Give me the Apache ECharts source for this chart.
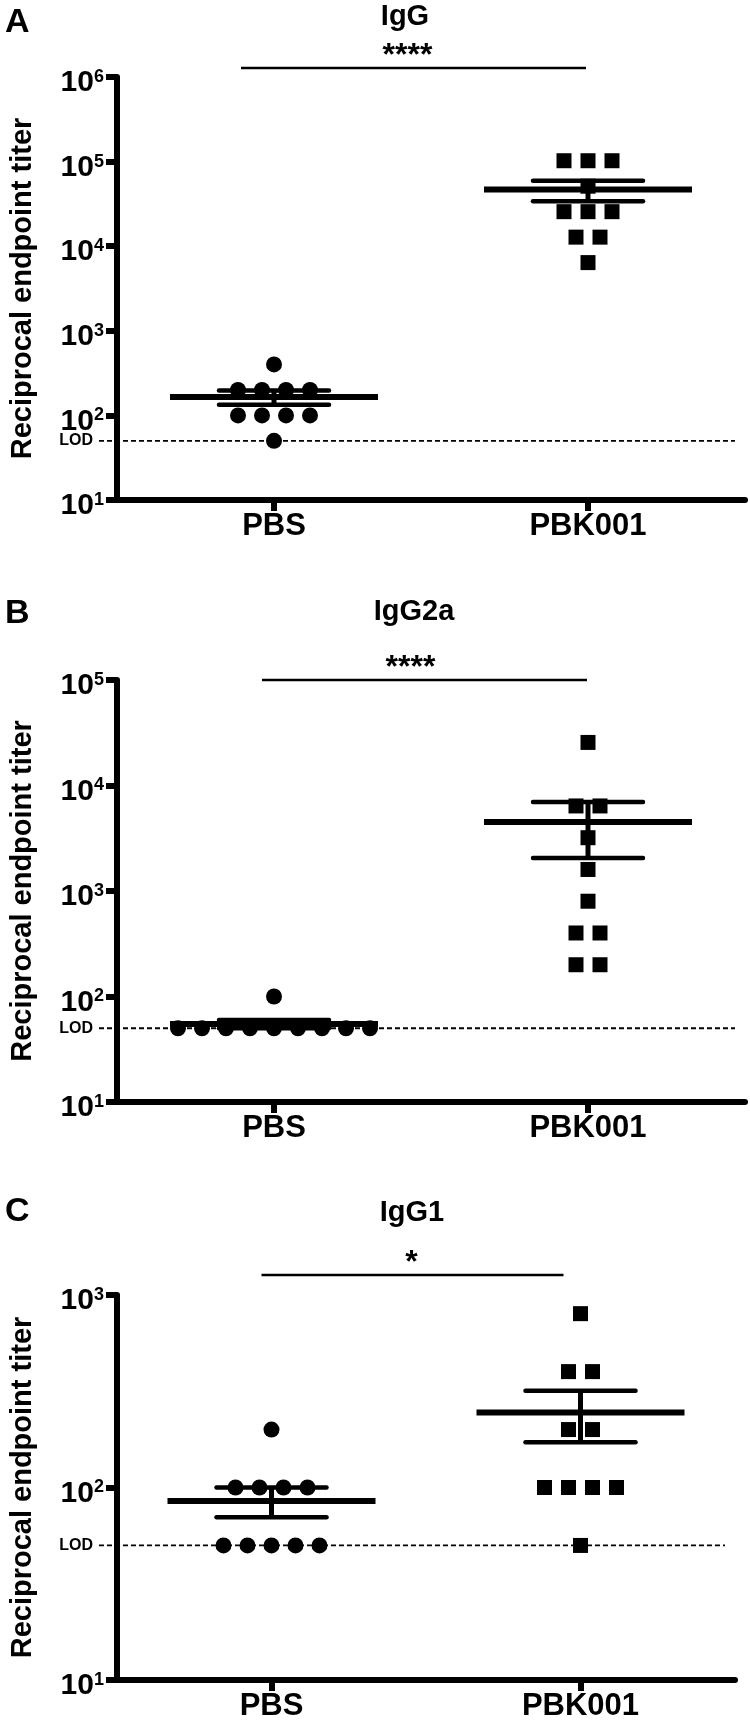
<!DOCTYPE html>
<html>
<head>
<meta charset="utf-8">
<script src="https://cdn.jsdelivr.net/npm/echarts@6/dist/echarts.min.js"></script>
<style>
html,body{margin:0;padding:0;background:#fff;}
#chart{width:750px;height:1730px;}
</style>
</head>
<body>
<div id="chart"></div>
<script>
// ---------------- data ----------------
const categories = ['PBS', 'PBK001'];
const panelLetters = ['A', 'B', 'C'];
const panelTitles = ['IgG', 'IgG2a', 'IgG1'];
const significance = ['****', '****', '*'];
const yAxisName = 'Reciprocal endpoint titer';
const yMinValues = [10, 10, 10];
const yMaxValues = [1e6, 1e5, 1e3];
const lodValue = 50;
const lodLabel = 'LOD';

const igG_PBS = [400, 200, 200, 200, 200, 100, 100, 100, 100, 50];
const igG_PBK001 = [102400, 102400, 102400, 51200, 25600, 25600, 25600, 12800, 12800, 6400];
const igG2a_PBS = [100, 50, 50, 50, 50, 50, 50, 50, 50, 50];
const igG2a_PBK001 = [25600, 6400, 6400, 3200, 1600, 800, 400, 400, 200, 200];
const igG1_PBS = [200, 100, 100, 100, 100, 50, 50, 50, 50, 50];
const igG1_PBK001 = [800, 400, 400, 200, 200, 100, 100, 100, 100, 50];

const panelData = [
  [igG_PBS, igG_PBK001],
  [igG2a_PBS, igG2a_PBK001],
  [igG1_PBS, igG1_PBK001]
];

// ---------------- layout / style ----------------
const FONT = '"Liberation Sans", Arial, Helvetica, sans-serif';
const grids = [
  { left: 113, right: 5, top: 77, height: 423 },
  { left: 113, right: 5, top: 680, height: 422 },
  { left: 113, right: 15, top: 1295, height: 385 }
];
const letterPos = [[5, 22], [5, 613], [5, 1211]];
const titlePos = [[405, 17], [414, 612], [412, 1213]];
// significance bar: [dx from first category, dx from second category, dy above grid top, star dx]
const sigLayout = [[-33, -2, 9, -6], [-12, -1, 0, -14], [-10, -17, 20, -1]];
const DOT_SPACING = 24;
const MEAN_HALF = 104;
const SEM_HALF = 55;
const symbols = ['circle', 'rect'];
const symbolSizes = [16, 15];

function jitter(values, catIndex) {
  const counts = {};
  values.forEach(v => { counts[v] = (counts[v] || 0) + 1; });
  const seen = {};
  return values.map(v => {
    const k = seen[v] || 0;
    seen[v] = k + 1;
    const dx = (k - (counts[v] - 1) / 2) * DOT_SPACING;
    return { value: [catIndex, v], symbolOffset: [dx, 0] };
  });
}

function meanSem(values) {
  const n = values.length;
  const m = values.reduce((a, b) => a + b, 0) / n;
  const sd = Math.sqrt(values.reduce((a, b) => a + (b - m) * (b - m), 0) / (n - 1));
  const sem = sd / Math.sqrt(n);
  return [m, m - sem, m + sem];
}

const xAxes = [], yAxes = [], series = [], graphics = [];

grids.forEach((g, p) => {
  xAxes.push({
    type: 'category', gridIndex: p, data: categories, boundaryGap: true,
    axisLine: { show: true, lineStyle: { color: '#000', width: 6 } },
    axisTick: { show: true, alignWithLabel: true, length: 11, lineStyle: { color: '#000', width: 6 } },
    axisLabel: { color: '#000', fontSize: 31, fontWeight: 'bold', fontFamily: FONT, margin: 11 },
    splitLine: { show: false }
  });
  yAxes.push({
    type: 'log', logBase: 10, gridIndex: p, min: yMinValues[p], max: yMaxValues[p],
    name: yAxisName, nameLocation: 'middle', nameGap: 80, nameRotate: 90,
    nameTextStyle: { color: '#000', fontSize: 29, fontWeight: 'bold', fontFamily: FONT },
    axisLine: { show: true, lineStyle: { color: '#000', width: 6 } },
    axisTick: { show: true, length: 11, lineStyle: { color: '#000', width: 6 } },
    minorTick: { show: false },
    splitLine: { show: false },
    axisLabel: {
      margin: 13, padding: [12, 0, 0, 0],
      formatter: v => '{b|10}{s|' + Math.round(Math.log10(v)) + '}',
      rich: {
        b: { fontSize: 30, fontWeight: 'bold', fontFamily: FONT, color: '#000', lineHeight: 30 },
        s: { fontSize: 18, fontWeight: 'bold', fontFamily: FONT, color: '#000', lineHeight: 14, verticalAlign: 'top' }
      }
    }
  });

  // LOD dashed line + label
  series.push({
    type: 'custom', xAxisIndex: p, yAxisIndex: p, data: [[0, lodValue]], z: 1, silent: true,
    renderItem: (params, api) => {
      const cs = params.coordSys;
      const y = api.coord([0, api.value(1)])[1];
      return {
        type: 'group', children: [
          { type: 'line', shape: { x1: cs.x - 18, y1: y, x2: cs.x + cs.width - 10, y2: y },
            style: { stroke: '#000', lineWidth: 1.8, lineDash: [5, 3] } },
          { type: 'text', style: { text: lodLabel, x: cs.x - 24, y: y, align: 'right', verticalAlign: 'middle',
            textAlign: 'right', textVerticalAlign: 'middle', fontSize: 16, fontWeight: 'bold', fontFamily: FONT, fill: '#000' } }
        ]
      };
    }
  });

  // points
  panelData[p].forEach((vals, c) => {
    series.push({
      type: 'scatter', xAxisIndex: p, yAxisIndex: p, symbol: symbols[c], symbolSize: symbolSizes[c],
      itemStyle: { color: '#000', opacity: 1 }, z: 3, silent: true,
      data: jitter(vals, c)
    });
  });

  // mean +/- SEM
  series.push({
    type: 'custom', xAxisIndex: p, yAxisIndex: p, z: 4, silent: true,
    data: panelData[p].map((vals, c) => [c].concat(meanSem(vals))),
    renderItem: (params, api) => {
      const cx = api.coord([api.value(0), api.value(1)])[0];
      const my = api.coord([api.value(0), api.value(1)])[1];
      const ly = api.coord([api.value(0), api.value(2)])[1];
      const hy = api.coord([api.value(0), api.value(3)])[1];
      const st = { stroke: '#000', lineWidth: 4.5, lineCap: 'round' };
      return {
        type: 'group', children: [
          { type: 'line', shape: { x1: cx, y1: hy, x2: cx, y2: ly }, style: { stroke: '#000', lineWidth: 5 } },
          { type: 'line', shape: { x1: cx - SEM_HALF, y1: hy, x2: cx + SEM_HALF, y2: hy }, style: st },
          { type: 'line', shape: { x1: cx - SEM_HALF, y1: ly, x2: cx + SEM_HALF, y2: ly }, style: st },
          { type: 'line', shape: { x1: cx - MEAN_HALF, y1: my, x2: cx + MEAN_HALF, y2: my }, style: { stroke: '#000', lineWidth: 6 } }
        ]
      };
    }
  });

  // significance bar
  series.push({
    type: 'custom', xAxisIndex: p, yAxisIndex: p, z: 4, silent: true, clip: false,
    data: [[0, yMaxValues[p]]],
    renderItem: (params, api) => {
      const cs = params.coordSys;
      const L = sigLayout[p];
      const x1 = api.coord([0, yMaxValues[p]])[0] + L[0];
      const x2 = api.coord([1, yMaxValues[p]])[0] + L[1];
      const y = cs.y - L[2];
      return {
        type: 'group', children: [
          { type: 'line', shape: { x1: x1, y1: y, x2: x2, y2: y }, style: { stroke: '#000', lineWidth: 2.5 } },
          { type: 'text', style: { text: significance[p], x: (x1 + x2) / 2 + L[3], y: y + 4,
            align: 'center', verticalAlign: 'bottom', textAlign: 'center', textVerticalAlign: 'bottom',
            fontSize: 32, fontWeight: 'bold', fontFamily: FONT, fill: '#000' } }
        ]
      };
    }
  });

  graphics.push({
    type: 'text', left: letterPos[p][0], top: letterPos[p][1] - 16,
    style: { text: panelLetters[p], fontSize: 34, fontWeight: 'bold', fontFamily: FONT, fill: '#000' }
  });
  graphics.push({
    type: 'text', x: titlePos[p][0], y: titlePos[p][1],
    style: { text: panelTitles[p], x: 0, y: 0, align: 'center', verticalAlign: 'middle',
      textAlign: 'center', textVerticalAlign: 'middle',
      fontSize: 29, fontWeight: 'bold', fontFamily: FONT, fill: '#000' }
  });
});

const chart = echarts.init(document.getElementById('chart'), null, { renderer: 'canvas' });
chart.setOption({
  backgroundColor: '#fff',
  animation: false,
  grid: grids,
  xAxis: xAxes,
  yAxis: yAxes,
  series: series,
  graphic: graphics
});
</script>
</body>
</html>
